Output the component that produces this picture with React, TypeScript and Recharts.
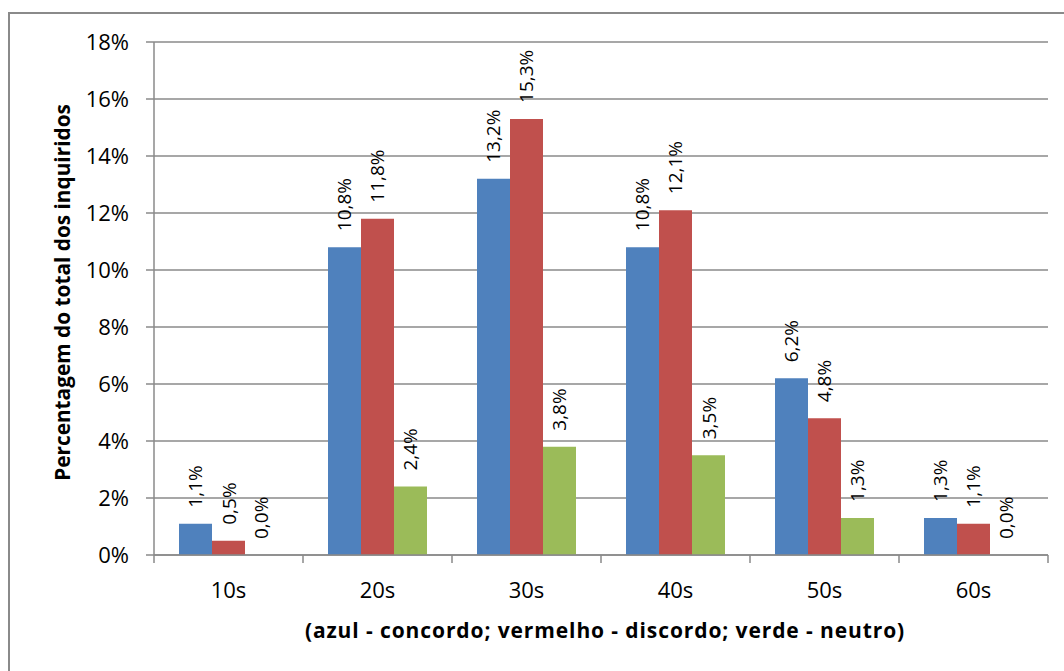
import React from 'react';
import { BarChart, Bar, XAxis, YAxis, CartesianGrid, LabelList, Label } from 'recharts';

// age groups and share of respondents (%) per answer
const categories = ['10s', '20s', '30s', '40s', '50s', '60s'];
const concordo = [1.1, 10.8, 13.2, 10.8, 6.2, 1.3];
const discordo = [0.5, 11.8, 15.3, 12.1, 4.8, 1.1];
const neutro = [0.0, 2.4, 3.8, 3.5, 1.3, 0.0];
const yTicks = [0, 2, 4, 6, 8, 10, 12, 14, 16, 18];

const data = categories.map((name, i) => ({
  name,
  concordo: concordo[i],
  discordo: discordo[i],
  neutro: neutro[i],
}));

const FONT = "'Open Sans', 'Liberation Sans', sans-serif";
const GRID = '#8a8a8a';

const fmt = (v: number) => `${v.toFixed(1).replace('.', ',')}%`;

const ValueLabel = (props: any) => {
  const { x, y, width, height, value } = props;
  const cx = Number(x) + Number(width) / 2;
  // zero bars get a tiny min height; label from the bar's top edge
  const top = Math.min(Number(y), Number(y) + Number(height || 0));
  const cy = top - 16;
  return (
    <text
      x={cx}
      y={cy}
      transform={`rotate(-90 ${cx} ${cy})`}
      textAnchor="start"
      dominantBaseline="central"
      fontSize={19}
      fontFamily={FONT}
      fill="#000"
    >
      {fmt(Number(value))}
    </text>
  );
};

const XTick = (props: any) => {
  const { x, y, payload, index, visibleTicksCount } = props;
  const half = payload.offset || 0;
  const last = index === visibleTicksCount - 1;
  return (
    <g>
      <line x1={x - half} x2={x - half} y1={y} y2={y + 8} stroke={GRID} strokeWidth={1.5} />
      {last && <line x1={x + half} x2={x + half} y1={y} y2={y + 8} stroke={GRID} strokeWidth={1.5} />}
      <text x={x} y={y + 43} textAnchor="middle" fontSize={22} fontFamily={FONT} fill="#000">
        {payload.value}
      </text>
    </g>
  );
};

const YTitle = (props: any) => {
  const vb = props.viewBox || { x: 0, y: 42, width: 154, height: 513 };
  const cx = vb.x + 62;
  const cy = vb.y + vb.height / 2 - 6;
  return (
    <text
      x={cx}
      y={cy}
      transform={`rotate(-90 ${cx} ${cy})`}
      textAnchor="middle"
      dominantBaseline="central"
      fontSize={20.8}
      fontWeight="bold"
      fontFamily={FONT}
      fill="#000"
    >
      Percentagem do total dos inquiridos
    </text>
  );
};

const XTitle = (props: any) => {
  const vb = props.viewBox || { x: 154, y: 555, width: 894, height: 95 };
  return (
    <text
      x={vb.x + vb.width / 2 + 4}
      y={vb.y + 83}
      textAnchor="middle"
      fontSize={21}
      fontWeight="bold"
      fontFamily={FONT}
      letterSpacing={0.9}
      fill="#000"
    >
      (azul - concordo; vermelho - discordo; verde - neutro)
    </text>
  );
};

export default function App() {
  return (
    <div style={{ position: 'fixed', inset: 0, overflow: 'hidden', background: '#fff' }}>
      <div
        style={{
          position: 'absolute',
          left: 8,
          top: 12,
          width: 1100,
          height: 700,
          border: `2px solid ${GRID}`,
        }}
      />
      <div style={{ position: 'absolute', left: 0, top: 0 }}>
        <BarChart
          width={1064}
          height={671}
          data={data}
          margin={{ top: 42, right: 16, bottom: 21, left: 0 }}
          barGap={0}
          barCategoryGap={25}
        >
          <CartesianGrid vertical={false} stroke={GRID} strokeWidth={1.5} />
          <XAxis
            dataKey="name"
            height={95}
            interval={0}
            tickLine={false}
            tickSize={0}
            tickMargin={0}
            axisLine={{ stroke: GRID, strokeWidth: 1.5 }}
            tick={<XTick />}
          >
            <Label content={<XTitle />} />
          </XAxis>
          <YAxis
            width={154}
            domain={[0, 18]}
            ticks={yTicks}
            interval={0}
            tickFormatter={(v: number) => `${v}%`}
            tickSize={8}
            tickMargin={17}
            tickLine={{ stroke: GRID, strokeWidth: 1.5 }}
            axisLine={{ stroke: GRID, strokeWidth: 1.5 }}
            tick={{ fontSize: 22, fontFamily: FONT, fill: '#000' }}
          >
            <Label content={<YTitle />} />
          </YAxis>
          <Bar dataKey="concordo" fill="#4F81BD" minPointSize={0.01} isAnimationActive={false}>
            <LabelList dataKey="concordo" content={<ValueLabel />} />
          </Bar>
          <Bar dataKey="discordo" fill="#C0504D" minPointSize={0.01} isAnimationActive={false}>
            <LabelList dataKey="discordo" content={<ValueLabel />} />
          </Bar>
          <Bar dataKey="neutro" fill="#9BBB59" minPointSize={0.01} isAnimationActive={false}>
            <LabelList dataKey="neutro" content={<ValueLabel />} />
          </Bar>
        </BarChart>
      </div>
    </div>
  );
}
